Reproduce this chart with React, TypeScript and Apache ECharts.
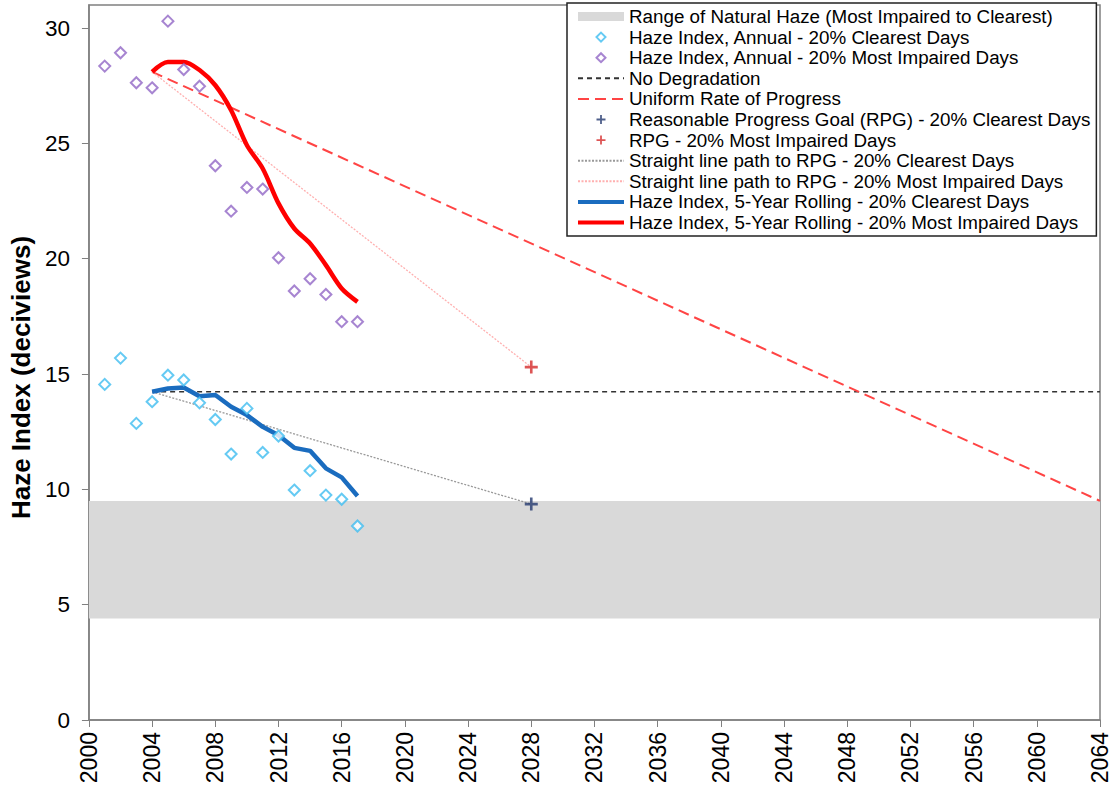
import React, { useEffect, useRef } from "react";
import * as echarts from "echarts";

const annualYears = [2001, 2002, 2003, 2004, 2005, 2006, 2007, 2008, 2009, 2010, 2011, 2012, 2013, 2014, 2015, 2016, 2017];
const clearestAnnual = [14.55, 15.69, 12.86, 13.8, 14.95, 14.74, 13.75, 13.03, 11.53, 13.51, 11.6, 12.31, 9.97, 10.81, 9.75, 9.57, 8.41];
const impairedAnnual = [28.35, 28.93, 27.63, 27.41, 30.3, 28.2, 27.48, 24.03, 22.06, 23.09, 23.02, 20.04, 18.6, 19.13, 18.45, 17.27, 17.27];

const rollingYears = [2004, 2005, 2006, 2007, 2008, 2009, 2010, 2011, 2012, 2013, 2014, 2015, 2016, 2017];
const clearestRolling = [14.23, 14.37, 14.42, 14.04, 14.09, 13.58, 13.22, 12.71, 12.35, 11.8, 11.67, 10.91, 10.52, 9.71];
const impairedRolling = [28.1, 28.53, 28.53, 28.18, 27.52, 26.44, 24.92, 23.91, 22.4, 21.31, 20.66, 19.72, 18.71, 18.13];

const baselineYear = 2004;
const rpgYear = 2028;
const endYear = 2064;
const baselineClearest = 14.23;
const baselineImpaired = 28.1;
const rpgClearest = 9.36;
const rpgImpaired = 15.3;
const naturalClearest = 4.4;
const naturalImpaired = 9.5;

const legendNames = [
  "Range of Natural Haze (Most Impaired to Clearest)",
  "Haze Index, Annual - 20% Clearest Days",
  "Haze Index, Annual - 20% Most Impaired Days",
  "No Degradation",
  "Uniform Rate of Progress",
  "Reasonable Progress Goal (RPG) - 20% Clearest Days",
  "RPG - 20% Most Impaired Days",
  "Straight line path to RPG - 20% Clearest Days",
  "Straight line path to RPG - 20% Most Impaired Days",
  "Haze Index, 5-Year Rolling - 20% Clearest Days",
  "Haze Index, 5-Year Rolling - 20% Most Impaired Days",
];

const FONT = "'Liberation Sans', Arial, sans-serif";
const PLUS = "path://M4,0h2v4h4v2h-4v4h-2v-4h-4v-2h4z";
const DIAMOND = "path://M5,0L10,5L5,10L0,5Z";

const CLEAR_C = "#3fbdf0";
const IMP_C = "#9166c6";
const HIDDEN = { color: "rgba(0,0,0,0)", borderColor: "rgba(0,0,0,0)", borderWidth: 0 };

export default function App() {
  const ref = useRef<HTMLDivElement>(null);
  useEffect(() => {
    if (!ref.current) return;
    const chart = echarts.init(ref.current, undefined, { renderer: "svg" });
    const zip = (xs: number[], ys: number[]) => xs.map((x, i) => [x, ys[i]]);
    const lineItems = new Set([3, 4, 7, 8]);
    const legendData = legendNames.map((n, i) => {
      if (i === 0) return { name: n, icon: "rect", itemStyle: { color: "#d9d9d9", borderWidth: 0 } };
      if (i === 1) return { name: n, icon: DIAMOND, itemStyle: { color: "#fff", borderColor: CLEAR_C, borderWidth: 2 } };
      if (i === 2) return { name: n, icon: DIAMOND, itemStyle: { color: "#fff", borderColor: IMP_C, borderWidth: 2 } };
      if (i === 9 || i === 10) return { name: n, itemStyle: HIDDEN, lineStyle: { width: 4 } };
      if (lineItems.has(i)) return { name: n, itemStyle: HIDDEN };
      return { name: n };
    });
    const lineBase = { type: "line", symbol: "none", showSymbol: false };
    const option: any = {
      animation: false,
      textStyle: { fontFamily: FONT },
      grid: {
        left: 87,
        right: 15,
        top: 5,
        bottom: 72,
        show: true,
        borderColor: "#808080",
        borderWidth: 1.5,
      },
      legend: {
        orient: "vertical",
        left: 567,
        top: 3,
        padding: [4, 6, 4, 9],
        itemWidth: 46,
        itemHeight: 9,
        itemGap: 1.6,
        backgroundColor: "#fff",
        borderColor: "#222",
        borderWidth: 1.5,
        textStyle: { fontFamily: FONT, fontSize: 18.8, color: "#000", lineHeight: 19 },
        data: legendData,
      },
      xAxis: {
        type: "value",
        min: 2000,
        max: 2064,
        interval: 4,
        axisLine: { show: true, lineStyle: { color: "#808080", width: 1.5 } },
        axisTick: { show: true, length: 7, lineStyle: { color: "#808080" } },
        splitLine: { show: false },
        axisLabel: {
          rotate: 90,
          fontSize: 23,
          color: "#000",
          fontFamily: FONT,
          margin: 12,
          formatter: (v: number) => String(v),
        },
      },
      yAxis: {
        type: "value",
        min: 0,
        max: 31,
        interval: 5,
        name: "Haze Index (deciviews)",
        nameLocation: "middle",
        nameGap: 52,
        nameTextStyle: { fontSize: 26, fontWeight: "bold", color: "#000", fontFamily: FONT, padding: [0, 30, 0, 0] },
        axisLine: { show: true, lineStyle: { color: "#808080", width: 1.5 } },
        axisTick: { show: true, length: 7, lineStyle: { color: "#808080" } },
        splitLine: { show: false },
        axisLabel: { fontSize: 22.5, color: "#000", fontFamily: FONT, margin: 19, showMaxLabel: false },
      },
      series: [
        {
          name: legendNames[0],
          ...lineBase,
          data: [],
          color: "#d9d9d9",
          z: 1,
          markArea: {
            silent: true,
            itemStyle: { color: "#d9d9d9" },
            data: [[{ yAxis: naturalClearest }, { yAxis: naturalImpaired }]],
          },
        },
        {
          name: legendNames[1],
          type: "scatter",
          symbol: "emptyDiamond",
          symbolSize: 11,
          itemStyle: { color: CLEAR_C, borderColor: CLEAR_C, borderWidth: 1.8 },
          data: zip(annualYears, clearestAnnual),
          z: 4,
        },
        {
          name: legendNames[2],
          type: "scatter",
          symbol: "emptyDiamond",
          symbolSize: 11,
          itemStyle: { color: IMP_C, borderColor: IMP_C, borderWidth: 1.8 },
          data: zip(annualYears, impairedAnnual),
          z: 4,
        },
        {
          name: legendNames[3],
          ...lineBase,
          color: "#333",
          lineStyle: { color: "#333", width: 1.6, type: [5, 4] },
          data: [
            [baselineYear, baselineClearest],
            [endYear, baselineClearest],
          ],
          z: 2,
        },
        {
          name: legendNames[4],
          ...lineBase,
          color: "#ff4444",
          lineStyle: { color: "#ff4444", width: 2, type: [11, 6] },
          data: [
            [baselineYear, baselineImpaired],
            [endYear, naturalImpaired],
          ],
          z: 2,
        },
        {
          name: legendNames[5],
          type: "scatter",
          symbol: PLUS,
          symbolSize: 13,
          itemStyle: { color: "#23386e" },
          data: [[rpgYear, rpgClearest]],
          z: 5,
        },
        {
          name: legendNames[6],
          type: "scatter",
          symbol: PLUS,
          symbolSize: 13,
          itemStyle: { color: "#d42a2a" },
          data: [[rpgYear, rpgImpaired]],
          z: 5,
        },
        {
          name: legendNames[7],
          ...lineBase,
          color: "#999",
          lineStyle: { color: "#999", width: 1.3, type: [2, 1.5] },
          data: [
            [baselineYear, baselineClearest],
            [rpgYear, rpgClearest],
          ],
          z: 2,
        },
        {
          name: legendNames[8],
          ...lineBase,
          color: "#ffb0b0",
          lineStyle: { color: "#ffb0b0", width: 1.3, type: [2, 1.5] },
          data: [
            [baselineYear, baselineImpaired],
            [rpgYear, rpgImpaired],
          ],
          z: 2,
        },
        {
          name: legendNames[9],
          ...lineBase,
          color: "#1a6cbf",
          lineStyle: { color: "#1a6cbf", width: 4.5 },
          data: zip(rollingYears, clearestRolling),
          z: 3,
        },
        {
          name: legendNames[10],
          ...lineBase,
          smooth: 0.3,
          color: "#ff0000",
          lineStyle: { color: "#ff0000", width: 4.5 },
          data: zip(rollingYears, impairedRolling),
          z: 3,
        },
      ],
    };
    chart.setOption(option);
    return () => chart.dispose();
  }, []);
  return (
    <div
      ref={ref}
      style={{ position: "fixed", left: 0, top: 0, width: 1115, height: 792, background: "#fff" }}
    />
  );
}
